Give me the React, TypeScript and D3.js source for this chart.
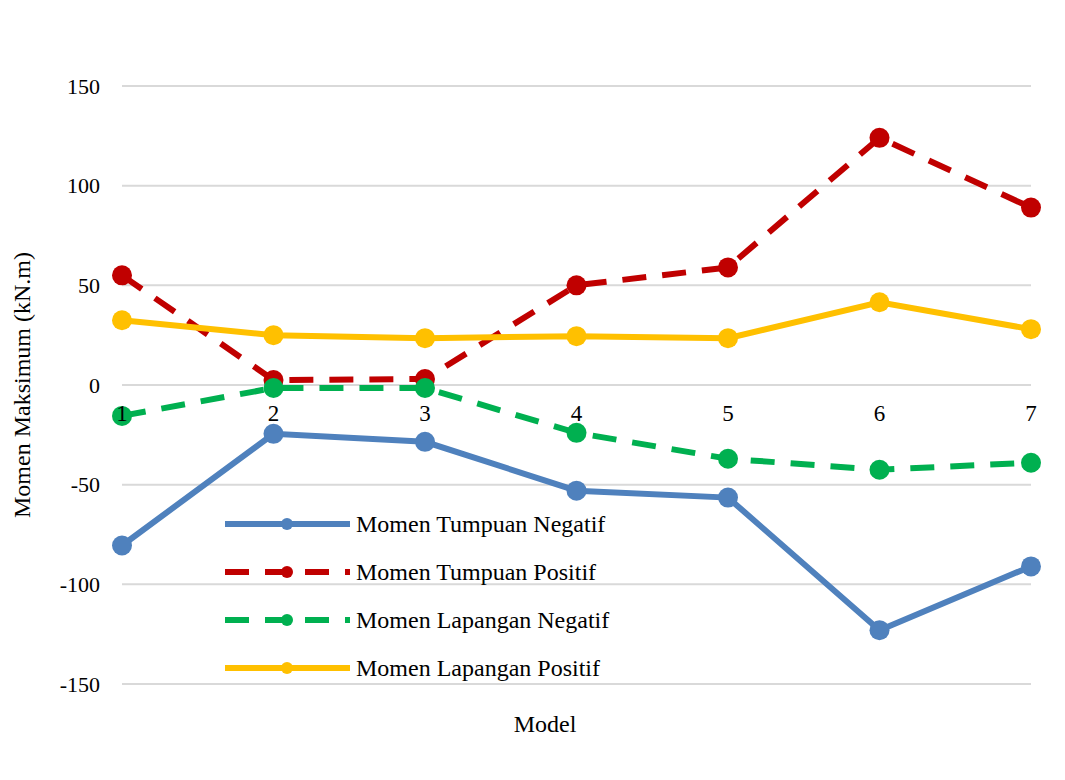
import * as d3 from "d3";

const models = [1, 2, 3, 4, 5, 6, 7];
const tumpuanNegatif = [-80.5, -24.5, -28.5, -53, -56.5, -123, -91];
const tumpuanPositif = [55, 2.5, 3, 50, 59, 124, 89];
const lapanganNegatif = [-15.5, -1.5, -1.5, -24, -37, -42.5, -39];
const lapanganPositif = [32.5, 25, 23.5, 24.5, 23.5, 41.5, 28];
const yTicks = [-150, -100, -50, 0, 50, 100, 150];

const series = [
  { name: "Momen Tumpuan Negatif", values: tumpuanNegatif, color: "#4F81BD", dash: "" },
  { name: "Momen Tumpuan Positif", values: tumpuanPositif, color: "#C00000", dash: "24,16" },
  { name: "Momen Lapangan Negatif", values: lapanganNegatif, color: "#00B050", dash: "24,16" },
  { name: "Momen Lapangan Positif", values: lapanganPositif, color: "#FFC000", dash: "" },
];

export default function App() {
  const width = 1065;
  const height = 780;
  const x = d3.scalePoint<number>().domain(models).range([122, 1031]);
  const y = d3.scaleLinear().domain([-150, 150]).range([684, 86]);
  const line = d3
    .line<number>()
    .x((_, i) => x(models[i])!)
    .y((d) => y(d));

  return (
    <svg
      width={width}
      height={height}
      style={{
        position: "absolute",
        left: 0,
        top: 0,
        background: "#fff",
        fontFamily: '"Liberation Serif", "Times New Roman", serif',
      }}
    >
      {yTicks.map((t) => (
        <g key={t}>
          <line x1={122} x2={1031} y1={y(t)} y2={y(t)} stroke="#d9d9d9" strokeWidth={2} />
          <text x={100} y={y(t)} dy="0.35em" textAnchor="end" fontSize={22}>
            {t}
          </text>
        </g>
      ))}
      {series.map((s) => (
        <g key={s.name}>
          <path
            d={line(s.values)!}
            fill="none"
            stroke={s.color}
            strokeWidth={6}
            strokeDasharray={s.dash}
          />
          {s.values.map((v, i) => (
            <circle key={i} cx={x(models[i])} cy={y(v)} r={10} fill={s.color} />
          ))}
        </g>
      ))}
      {models.map((m) => (
        <text key={m} x={x(m)} y={421} textAnchor="middle" fontSize={23}>
          {m}
        </text>
      ))}
      {series.map((s, i) => {
        const ly = 524 + i * 48;
        return (
          <g key={s.name}>
            <line x1={225} x2={350} y1={ly} y2={ly} stroke={s.color} strokeWidth={6} strokeDasharray={s.dash} />
            <circle cx={287} cy={ly} r={6} fill={s.color} />
            <text x={356} y={ly} dy="0.35em" fontSize={24}>
              {s.name}
            </text>
          </g>
        );
      })}
      <text x={545} y={732} textAnchor="middle" fontSize={24}>
        Model
      </text>
      <text transform="translate(30,385) rotate(-90)" textAnchor="middle" fontSize={24}>
        Momen Maksimum (kN.m)
      </text>
    </svg>
  );
}
